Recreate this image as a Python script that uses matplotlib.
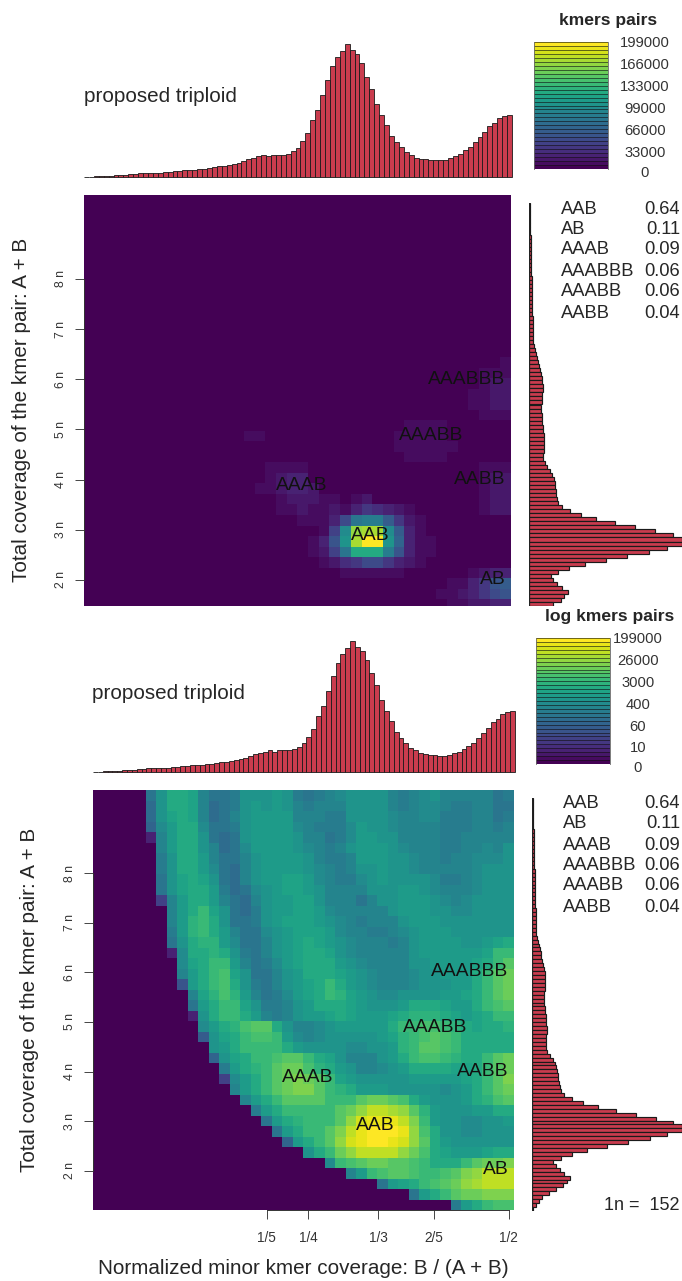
import numpy as np
import matplotlib
matplotlib.use("Agg")
import matplotlib.pyplot as plt

W, H = 682, 1281
plt.rcParams['font.family'] = ['Liberation Sans', 'DejaVu Sans']

# Smudge grid (bottom panel): colour level in % of the log scale, top row first
log_levels = [
 [0,0,0,0,0, 38,50,62,62,58, 46,38,40,42,50, 52,52,55,52,42, 40,42,45,47,50, 50,50,50,46,43, 45,48,50,44,45, 45,45,45,40,43],
 [0,0,0,0,0, 36,50,60,62,58, 44,36,38,42,50, 54,52,54,52,44, 42,44,46,45,50, 52,50,50,46,42, 45,48,48,44,42, 42,44,44,38,40],
 [0,0,0,0,0, 36,50,58,62,58, 45,36,38,44,50, 54,55,54,54,46, 46,44,42,42,50, 52,50,50,48,44, 44,48,48,42,42, 42,44,44,40,42],
 [0,0,0,0,0, 34,48,55,60,60, 48,38,38,42,50, 55,56,56,54,48, 46,42,42,42,48, 54,52,50,48,44, 44,46,46,42,42, 42,44,44,42,44],
 [0,0,0,0,0, 10,46,54,60,60, 50,40,36,40,50, 55,56,56,55,50, 46,44,40,42,48, 54,55,52,50,46, 44,46,46,42,42, 44,46,46,44,44],
 [0,0,0,0,0, 0,44,54,60,62, 52,44,36,40,48, 55,56,56,56,52, 48,44,42,44,50, 56,56,54,50,48, 46,46,44,42,42, 44,46,48,46,50],
 [0,0,0,0,0, 0,42,52,60,62, 54,46,38,38,46, 52,56,56,56,54, 50,46,42,42,46, 54,55,55,52,50, 48,46,44,42,44, 46,48,48,48,50],
 [0,0,0,0,0, 0,42,52,60,62, 55,48,38,36,44, 52,54,56,56,55, 52,48,44,42,44, 50,52,54,52,50, 48,46,44,44,46, 46,48,50,50,50],
 [0,0,0,0,0, 0,40,50,58,62, 58,50,40,36,44, 50,54,56,58,58, 54,48,44,42,42, 48,52,54,52,50, 52,50,48,42,42, 44,48,50,50,50],
 [0,0,0,0,0, 0,38,50,58,60, 60,54,42,36,40, 48,52,56,58,58, 56,50,46,44,44, 46,50,52,52,54, 54,52,48,44,44, 46,48,50,50,50],
 [0,0,0,0,0, 0,20,46,56,60, 62,55,46,38,36, 46,50,54,56,58, 58,52,46,46,44, 40,46,50,52,56, 56,54,50,48,46, 48,50,50,50,50],
 [0,0,0,0,0, 0,0,44,54,62, 66,58,50,38,36, 42,50,54,56,58, 58,54,48,46,44, 44,44,46,50,54, 56,56,52,50,48, 48,50,52,50,50],
 [0,0,0,0,0, 0,0,44,56,64, 66,60,52,40,38, 42,50,54,58,58, 58,54,50,48,46, 42,44,44,46,50, 54,56,54,52,50, 50,52,52,52,50],
 [0,0,0,0,0, 0,0,42,54,64, 66,62,54,44,38, 40,48,52,56,58, 58,58,54,48,46, 44,42,42,44,48, 50,54,56,54,52, 50,52,52,52,50],
 [0,0,0,0,0, 0,0,38,52,62, 64,64,56,48,40, 38,46,52,56,58, 60,58,56,50,48, 44,44,44,42,46, 50,54,56,56,54, 52,52,54,58,62],
 [0,0,0,0,0, 0,0,12,48,60, 62,64,60,50,42, 38,44,50,54,58, 60,60,58,52,48, 46,44,44,44,46, 50,54,56,56,56, 54,54,58,66,68],
 [0,0,0,0,0, 0,0,0,48,58, 62,66,66,54,46, 38,42,48,54,58, 60,62,60,54,50, 48,46,46,44,46, 50,52,54,56,56, 56,58,62,68,72],
 [0,0,0,0,0, 0,0,0,44,56, 62,66,70,58,50, 40,40,46,52,56, 60,62,62,58,54, 50,48,46,44,44, 48,50,52,54,54, 56,60,66,72,76],
 [0,0,0,0,0, 0,0,0,25,54, 60,66,70,62,52, 42,40,44,50,56, 58,62,66,62,56, 52,48,46,46,46, 48,50,50,52,54, 56,62,68,74,78],
 [0,0,0,0,0, 0,0,0,0,46, 58,64,70,64,54, 46,40,42,48,54, 58,62,66,64,58, 54,50,48,48,50, 52,52,52,54,56, 58,62,68,74,78],
 [0,0,0,0,0, 0,0,0,0,40, 56,62,68,66,58, 50,42,42,46,52, 56,60,62,62,58, 56,52,50,52,56, 60,60,60,58,56, 56,60,66,70,74],
 [0,0,0,0,0, 0,0,0,0,10, 50,60,66,68,62, 56,46,42,44,50, 54,56,58,60,58, 56,54,54,58,62, 64,64,64,62,58, 56,58,62,66,68],
 [0,0,0,0,0, 0,0,0,0,0, 48,56,60,64,70, 72,72,62,50,44, 44,48,52,54,54, 54,54,56,60,66, 68,70,70,68,64, 60,58,60,62,64],
 [0,0,0,0,0, 0,0,0,0,0, 30,52,58,62,68, 70,70,66,56,48, 46,48,50,52,52, 50,52,54,58,64, 68,70,72,70,66, 62,60,60,60,62],
 [0,0,0,0,0, 0,0,0,0,0, 0,50,56,60,66, 68,68,66,60,54, 52,52,52,50,48, 48,50,52,56,64, 68,72,72,70,66, 62,60,60,60,60],
 [0,0,0,0,0, 0,0,0,0,0, 0,32,52,58,62, 66,68,70,72,72, 66,62,58,52,46, 44,46,50,54,60, 66,70,70,68,64, 62,62,66,72,76],
 [0,0,0,0,0, 0,0,0,0,0, 0,0,42,54,60, 64,68,72,76,76, 70,64,60,54,50, 46,46,48,50,56, 60,62,62,60,58, 58,62,68,74,78],
 [0,0,0,0,0, 0,0,0,0,0, 0,0,20,48,56, 62,66,72,78,80, 78,72,66,58,54, 50,50,50,50,52, 54,56,56,56,56, 58,62,68,74,80],
 [0,0,0,0,0, 0,0,0,0,0, 0,0,0,44,54, 60,66,72,78,80, 80,74,68,64,60, 56,54,54,52,52, 50,50,50,48,52, 56,62,68,74,78],
 [0,0,0,0,0, 0,0,0,0,0, 0,0,0,0,44, 56,62,68,74,74, 74,72,68,66,66, 72,76,78,74,70, 62,54,50,50,50, 54,60,64,70,74],
 [0,0,0,0,0, 0,0,0,0,0, 0,0,0,0,0, 42,56,62,66,68, 68,68,68,72,78, 84,88,88,86,82, 74,64,54,50,50, 52,54,56,60,62],
 [0,0,0,0,0, 0,0,0,0,0, 0,0,0,0,0, 0,38,56,60,64, 66,66,68,74,84, 92,94,96,94,90, 80,66,56,50,50, 48,48,50,52,54],
 [0,0,0,0,0, 0,0,0,0,0, 0,0,0,0,0, 0,0,38,56,62, 66,66,72,80,90, 96,100,100,98,94, 84,70,60,52,50, 48,48,50,50,50],
 [0,0,0,0,0, 0,0,0,0,0, 0,0,0,0,0, 0,0,0,32,56, 62,66,72,82,92, 96,98,98,96,92, 84,72,62,56,52, 50,50,50,50,50],
 [0,0,0,0,0, 0,0,0,0,0, 0,0,0,0,0, 0,0,0,0,0, 52,62,68,76,84, 88,90,90,88,84, 78,70,62,58,54, 54,56,58,60,62],
 [0,0,0,0,0, 0,0,0,0,0, 0,0,0,0,0, 0,0,0,0,0, 0,0,48,66,70, 74,76,76,74,72, 70,66,62,60,62, 66,72,76,78,80],
 [0,0,0,0,0, 0,0,0,0,0, 0,0,0,0,0, 0,0,0,0,0, 0,0,0,0,44, 56,66,70,72,72, 70,68,66,70,74, 80,84,88,90,90],
 [0,0,0,0,0, 0,0,0,0,0, 0,0,0,0,0, 0,0,0,0,0, 0,0,0,0,0, 0,0,40,54,58, 62,68,70,74,78, 82,86,88,90,90],
 [0,0,0,0,0, 0,0,0,0,0, 0,0,0,0,0, 0,0,0,0,0, 0,0,0,0,0, 0,0,0,0,0, 40,56,62,68,72, 76,78,80,80,80],
 [0,0,0,0,0, 0,0,0,0,0, 0,0,0,0,0, 0,0,0,0,0, 0,0,0,0,0, 0,0,0,0,0, 0,0,0,0,42, 56,62,66,70,70],
]

# Smudge grid (top panel): colour level in % of the linear scale.
# Row number from the bottom -> (first non-empty column, levels)
linear_levels = {
 0: (34, [5, 5, 7, 7, 10, 10]),
 1: (33, [4, 5, 8, 10, 16, 22, 25]),
 2: (34, [4, 5, 12, 18, 28, 30]),
 3: (24, [5, 5, 5, 5, 5, 5, 0, 0, 0, 0, 0, 0, 5, 8, 12, 12]),
 4: (22, [4, 8, 14, 18, 22, 22, 16, 12, 8, 4]),
 5: (21, [4, 7, 20, 40, 60, 62, 62, 42, 28, 10, 6, 4]),
 6: (21, [4, 10, 28, 50, 85, 100, 100, 50, 32, 12, 6, 4]),
 7: (22, [5, 20, 48, 82, 85, 85, 48, 30, 12, 6]),
 8: (20, [4, 4, 5, 10, 24, 38, 42, 42, 30, 18, 8, 4]),
 9: (18, [4, 5, 7, 5, 5, 7, 6, 12, 16, 14, 12, 8, 6, 0, 0, 0, 0, 0, 0, 5, 8, 8]),
 10: (18, [5, 7, 8, 8, 5, 4, 0, 6, 7, 0, 0, 0, 0, 0, 0, 0, 0, 0, 0, 5, 8, 8]),
 11: (16, [4, 5, 8, 12, 12, 8, 0, 0, 0, 0, 0, 0, 0, 0, 0, 0, 0, 0, 0, 0, 0, 5, 8, 8]),
 12: (17, [5, 8, 10, 10, 0, 0, 0, 0, 0, 0, 0, 0, 0, 0, 0, 0, 0, 0, 0, 0, 5, 8, 8]),
 13: (17, [4, 4, 5, 5, 0, 0, 0, 0, 0, 0, 0, 0, 0, 0, 0, 0, 0, 0, 0, 0, 5, 5, 5]),
 14: (30, [5, 5, 5, 5]),
 15: (29, [4, 5, 5, 5, 5, 4]),
 16: (15, [4, 4, 0, 0, 0, 0, 0, 0, 0, 0, 0, 0, 0, 0, 4, 5, 5, 5, 4]),
 17: (30, [4, 4, 4, 4]),
 18: (37, [4, 4, 4]),
 19: (36, [4, 5, 8, 8]),
 20: (36, [4, 5, 8, 8]),
 21: (37, [5, 8, 8]),
 22: (37, [4, 5, 5]),
 23: (39, [4]),
}

# Marginal histogram of B / (A + B)
minor_cov_counts = [
 1, 1, 2, 2, 3, 4, 5, 6, 7, 9, 10, 11, 11, 12, 12, 13, 14, 16, 18, 18, 20,
 21, 22, 23, 25, 28, 31, 32, 33, 37, 39, 43, 48, 54, 58, 62, 66, 62, 66, 66, 66,
 70, 77, 88, 107, 132, 170, 202, 247, 292, 334, 360, 380, 400, 382, 370, 342,
 302, 265, 220, 187, 156, 122, 104, 90, 74, 66, 58, 55, 53, 51, 50, 50, 52, 57,
 62, 70, 80, 90, 104, 120, 134, 152, 162, 176, 182, 187,
]

# Marginal histogram of total coverage, high coverage first
total_cov_counts = [
 2, 3, 3, 3, 4, 4, 4, 4, 5, 5, 5, 6, 6, 6, 6, 7, 7, 7, 8, 8, 8, 8, 9, 9, 9, 10,
 10, 10, 11, 11, 12, 12, 12, 12, 13, 15, 17, 20, 23, 26, 29, 32, 35, 38, 40, 41,
 41, 40, 39, 38, 37, 37, 38, 39, 40, 42, 43, 44, 45, 45, 44, 44, 43, 43, 47, 55,
 63, 70, 74, 77, 79, 80, 82, 85, 88, 98, 123, 156, 201, 258, 318, 378, 430, 458,
 458, 413, 360, 293, 230, 168, 121, 88, 65, 73, 85, 98, 116, 106, 95, 73, 53, 30,
 20, 13, 3,
]

genome_structures = ['AAB', 'AB', 'AAAB', 'AAABBB', 'AAABB', 'AABB']
structure_sizes = ['0.64', '0.11', '0.09', '0.06', '0.06', '0.04']
linear_scale_labels = ['199000', '166000', '133000', '99000', '66000', '33000', '0']
log_scale_labels = ['199000', '26000', '3000', '400', '60', '10', '0']
coverage_ticks = [2, 3, 4, 5, 6, 7, 8]
coverage_tick_labels = ['2 n', '3 n', '4 n', '5 n', '6 n', '7 n', '8 n']
minor_ticks = [1/5, 1/4, 1/3, 2/5, 0.49]
minor_tick_labels = ['1/5', '1/4', '1/3', '2/5', '1/2']

BAR = '#C93C4E'
cmap = plt.get_cmap('viridis', 32)
fig = plt.figure(figsize=(W / 100, H / 100), dpi=100, facecolor='white')


def box(x0, y0, x1, y1):
    return fig.add_axes([x0 / W, 1 - y1 / H, (x1 - x0) / W, (y1 - y0) / H])


def label(x, y, s, **kw):
    kw.setdefault('ha', 'center')
    kw.setdefault('va', 'center')
    kw.setdefault('fontsize', 13.2)
    kw.setdefault('color', '#262626')
    return fig.text(x / W, 1 - y / H, s, **kw)


def smudge(rect, z, grid_y, ylim, show_x):
    ax = box(*rect)
    xlim = (-0.00815, 0.4963)
    ax.imshow(z, origin='lower', extent=(xlim[0], xlim[1], grid_y[0], grid_y[1]),
              aspect='auto', cmap=cmap, vmin=0, vmax=100, interpolation='nearest')
    ax.set_xlim(*xlim)
    ax.set_ylim(*ylim)
    for s in ('top', 'right'):
        ax.spines[s].set_visible(False)
    ax.spines['left'].set_bounds(2, 8)
    ax.spines['left'].set_color('#333333')
    ax.spines['left'].set_linewidth(0.7)
    ax.set_yticks(coverage_ticks)
    ax.set_yticklabels(coverage_tick_labels, rotation=90, va='center', fontsize=8.8, color='#333333')
    ax.tick_params(axis='y', length=6.5, width=0.7, color='#444444', pad=6)
    if show_x:
        ax.spines['bottom'].set_bounds(minor_ticks[0], minor_ticks[-1])
        ax.spines['bottom'].set_color('#333333')
        ax.spines['bottom'].set_linewidth(0.7)
        ax.set_xticks(minor_ticks)
        ax.set_xticklabels(minor_tick_labels, fontsize=9.8, color='#333333')
        ax.tick_params(axis='x', length=6.5, width=0.7, color='#444444', pad=8.5)
    else:
        ax.spines['bottom'].set_visible(False)
        ax.set_xticks([])
    return ax


def top_hist(rect):
    ax = box(*rect)
    ax.bar(np.arange(len(minor_cov_counts)), minor_cov_counts, width=1.0, color=BAR,
           edgecolor='#1a1a1a', linewidth=0.6, clip_on=False)
    ax.set_xlim(-0.5, len(minor_cov_counts) - 0.5)
    ax.set_ylim(0, max(minor_cov_counts))
    ax.axis('off')


def side_hist(rect, n_visible):
    ax = box(*rect)
    ax.barh(np.arange(len(total_cov_counts)), total_cov_counts, height=1.0, color=BAR,
            edgecolor='#1a1a1a', linewidth=0.85)
    ax.set_ylim(n_visible - 0.5, -0.5)
    ax.set_xlim(0, 458)
    ax.axis('off')
    ax.axvline(0, color='#222222', lw=0.8)


def scale_bar(rect, labels, title, title_xy, label_x, label_ys):
    ax = box(*rect)
    ax.imshow(np.arange(32)[:, None].astype(float), origin='lower', extent=(0, 1, 0, 32),
              aspect='auto', cmap=cmap, vmin=0, vmax=31, interpolation='nearest')
    ax.hlines(np.arange(33), 0, 1, color='#111111', linewidth=0.5, alpha=0.85)
    ax.set_xlim(0, 1)
    ax.set_ylim(0, 32)
    ax.set_xticks([])
    ax.set_yticks([])
    for s in ax.spines.values():
        s.set_visible(False)
    ax.spines['left'].set_visible(True)
    ax.spines['right'].set_visible(True)
    ax.spines['left'].set_color('#666666')
    ax.spines['right'].set_color('#666666')
    ax.spines['left'].set_linewidth(0.6)
    ax.spines['right'].set_linewidth(0.6)
    label(title_xy[0], title_xy[1], title, fontweight='bold', fontsize=12.6)
    for s, y in zip(labels, label_ys):
        label(label_x, y, s, fontsize=10.6, color='#333333')


# ---- top block ----
top_hist((84, 44, 512, 177))
label(160, 97, 'proposed triploid', fontsize=14.9)
scale_bar((534, 42, 608, 169), linear_scale_labels, 'kmers pairs', (608, 20), 645,
          [43, 65, 87, 109, 131, 153, 173])

top_z = np.zeros((40, 40))
for row, (first, levels) in linear_levels.items():
    top_z[row, first:first + len(levels)] = levels
smudge((84, 195, 511, 606), top_z, (1.408, 9.776), (1.482, 9.67), False)
side_hist((529, 203, 682, 606), 100)
label(22, 410, 'Total coverage of the kmer pair: A + B', rotation=90, fontsize=14.9)

for s, x, y in zip(genome_structures, [370, 493, 302, 467, 431, 480], [535, 579, 485, 379, 436, 480]):
    label(x, y, s, color='#111111', fontsize=13.9)
for s, v, y in zip(genome_structures, structure_sizes, [209, 229, 250, 271, 292, 313]):
    label(561, y, s, ha='left')
    label(680, y, v, ha='right')

# ---- bottom block ----
top_hist((93, 641, 515, 772))
label(168, 693, 'proposed triploid', fontsize=14.9)
scale_bar((536, 638, 610, 764), log_scale_labels, 'log kmers pairs', (610, 617), 638,
          [639, 661, 683, 705, 727, 748, 768])

bottom_z = np.array(log_levels, dtype=float)[::-1]
smudge((93, 790, 514, 1210), bottom_z, (1.208, 9.675), (1.208, 9.675), True)
side_hist((532, 798, 682, 1211), 105)
label(30, 1000, 'Total coverage of the kmer pair: A + B', rotation=90, fontsize=14.9)
label(303, 1269, 'Normalized minor kmer coverage: B / (A + B)', fontsize=14.9)

for s, x, y in zip(genome_structures, [375, 496, 308, 470, 435, 483], [1126, 1169, 1077, 972, 1028, 1071]):
    label(x, y, s, color='#111111', fontsize=13.9)
for s, v, y in zip(genome_structures, structure_sizes, [804, 824, 845, 866, 886, 908]):
    label(563, y, s, ha='left')
    label(680, y, v, ha='right')
label(680, 1206, '1n =  152', ha='right', fontsize=13.0)

fig.savefig('out.png', dpi=100, facecolor='white')
